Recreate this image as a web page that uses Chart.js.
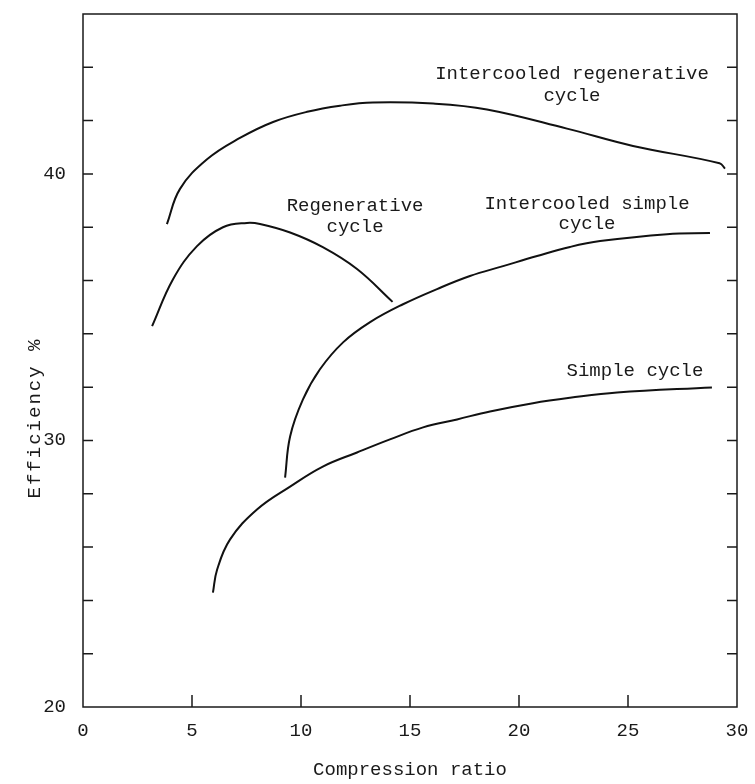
<!DOCTYPE html>
<html>
<head>
<meta charset="utf-8">
<script src="https://cdn.jsdelivr.net/npm/chart.js@4.4.0/dist/chart.umd.min.js"></script>
<style>
html, body { margin: 0; padding: 0; background: #fff; }
</style>
</head>
<body>
<canvas id="c" width="755" height="784"></canvas>
<script>
// values (compression ratio, efficiency %)
var regenX = [3.17, 4.13, 5.23, 6.42, 7.52, 8.12, 9.5, 11.0, 12.57, 14.2];
var regenY = [34.29, 36.05, 37.29, 38.0, 38.16, 38.12, 37.8, 37.25, 36.43, 35.2];

var icRegenX = [3.85, 4.45, 5.69, 7.2, 8.72, 10.28, 11.79, 13.3, 16.06, 18.53, 22.2, 25.23, 29.2, 29.45];
var icRegenY = [38.12, 39.44, 40.55, 41.35, 41.95, 42.33, 42.56, 42.68, 42.64, 42.42, 41.7, 41.05, 40.4, 40.2];

var icSimpleX = [9.27, 9.5, 10.09, 10.87, 11.93, 13.17, 14.68, 16.24, 17.75, 19.27, 20.83, 22.34, 23.72, 26.79, 28.76];
var icSimpleY = [28.61, 30.15, 31.54, 32.67, 33.68, 34.44, 35.11, 35.68, 36.17, 36.54, 36.92, 37.26, 37.48, 37.74, 37.78];

var simpleX = [5.96, 6.15, 6.74, 7.98, 9.5, 11.0, 12.57, 14.08, 15.6, 17.16, 18.67, 20.64, 22.34, 24.5, 28.85];
var simpleY = [24.29, 25.15, 26.28, 27.41, 28.27, 29.02, 29.55, 30.04, 30.49, 30.79, 31.09, 31.4, 31.6, 31.8, 31.99];

var yLabelValues = [20, 30, 40];

function pts(xs, ys) {
  return xs.map(function (x, i) { return { x: x, y: ys[i] }; });
}

function line(xs, ys) {
  return {
    data: pts(xs, ys),
    showLine: true,
    borderColor: '#111',
    borderWidth: 2,
    pointRadius: 0,
    tension: 0.4,
    fill: false
  };
}

var ink = '#1a1a1a';
var mono = 'Liberation Mono';

// curve captions, placed in data units
var captions = [
  { text: 'Intercooled regenerative', x: 22.43, y: 43.76 },
  { text: 'cycle', x: 22.43, y: 42.93 },
  { text: 'Regenerative', x: 12.48, y: 38.8 },
  { text: 'cycle', x: 12.48, y: 38.0 },
  { text: 'Intercooled simple', x: 23.12, y: 38.87 },
  { text: 'cycle', x: 23.12, y: 38.12 },
  { text: 'Simple cycle', x: 25.32, y: 32.59 }
];

var frame = {
  id: 'frame',
  afterDraw: function (chart) {
    var ctx = chart.ctx, a = chart.chartArea;
    var xs = chart.scales.x, ys = chart.scales.y;
    ctx.save();
    ctx.strokeStyle = ink;
    ctx.lineWidth = 1.5;
    ctx.strokeRect(a.left, a.top, a.right - a.left, a.bottom - a.top);

    // inward tick marks
    ctx.beginPath();
    xs.ticks.forEach(function (t) {
      if (t.value <= xs.min || t.value >= xs.max) return;
      var px = xs.getPixelForValue(t.value);
      ctx.moveTo(px, a.bottom);
      ctx.lineTo(px, a.bottom - 12);
    });
    ys.ticks.forEach(function (t) {
      if (t.value <= ys.min || t.value >= ys.max) return;
      var py = ys.getPixelForValue(t.value);
      ctx.moveTo(a.left, py);
      ctx.lineTo(a.left + 10, py);
      ctx.moveTo(a.right, py);
      ctx.lineTo(a.right - 10, py);
    });
    ctx.stroke();

    ctx.fillStyle = ink;
    ctx.font = '19px "' + mono + '"';
    ctx.textAlign = 'center';
    ctx.textBaseline = 'middle';
    captions.forEach(function (c) {
      ctx.fillText(c.text, xs.getPixelForValue(c.x), ys.getPixelForValue(c.y));
    });

    // y axis title, sits a bit below the middle in the original
    ctx.translate(a.left - 48, a.top + (a.bottom - a.top) * 0.583);
    ctx.rotate(-Math.PI / 2);
    ctx.letterSpacing = '2px';
    ctx.fillText('Efficiency %', 0, 0);
    ctx.restore();
  }
};

new Chart(document.getElementById('c'), {
  type: 'scatter',
  data: {
    datasets: [
      line(icRegenX, icRegenY),
      line(regenX, regenY),
      line(icSimpleX, icSimpleY),
      line(simpleX, simpleY)
    ]
  },
  options: {
    responsive: false,
    animation: false,
    layout: { padding: { top: 14, right: 18, left: 0, bottom: 0 } },
    plugins: {
      legend: { display: false },
      tooltip: { enabled: false }
    },
    scales: {
      x: {
        type: 'linear',
        min: 0,
        max: 30,
        grid: { display: false, drawTicks: false },
        border: { display: false },
        ticks: { stepSize: 5, padding: 13, color: ink, font: { family: mono, size: 19 } },
        title: {
          display: true,
          text: 'Compression ratio',
          color: ink,
          padding: { top: 0, bottom: 3 },
          font: { family: mono, size: 19 }
        },
        afterFit: function (s) {
          s.height = 77;
          s.paddingLeft = 0;
          s.paddingRight = 0;
        }
      },
      y: {
        type: 'linear',
        min: 20,
        max: 46,
        grid: { display: false, drawTicks: false },
        border: { display: false },
        ticks: {
          stepSize: 2,
          padding: 17,
          color: ink,
          font: { family: mono, size: 19 },
          callback: function (v) { return yLabelValues.indexOf(v) >= 0 ? v : ''; }
        },
        afterFit: function (s) {
          s.width = 83;
          s.paddingTop = 0;
          s.paddingBottom = 0;
        }
      }
    }
  },
  plugins: [frame]
});
</script>
</body>
</html>
